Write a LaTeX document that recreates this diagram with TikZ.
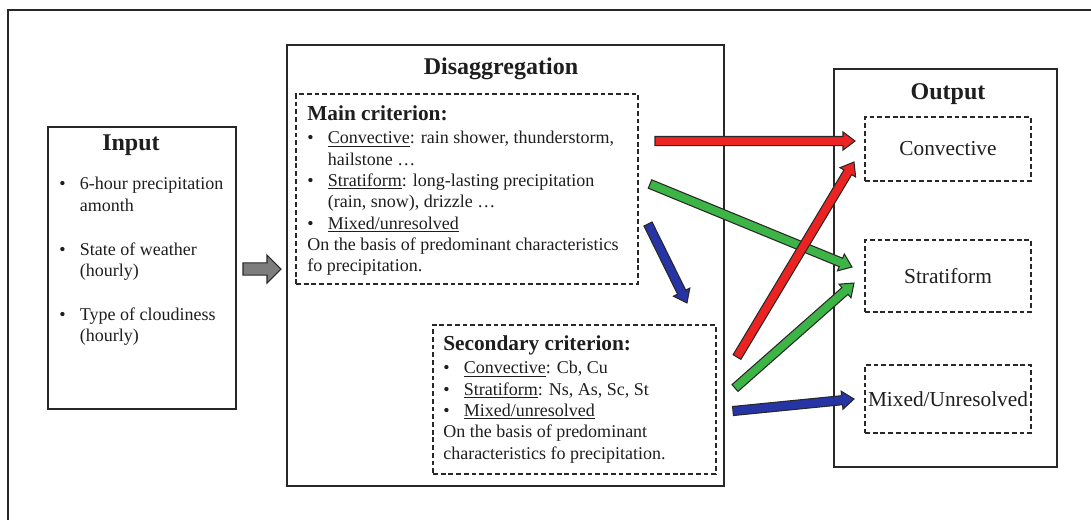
\documentclass[tikz,border=0pt]{standalone}
\usepackage{fontspec}
\setmainfont{Liberation Serif}
\usepackage{tikz}
\usetikzlibrary{calc}

\newdimen\pxu \pxu=0.75pt
\definecolor{ink}{RGB}{30,30,30}
\definecolor{edge}{RGB}{40,40,40}
\definecolor{arrred}{RGB}{235,35,35}
\definecolor{arrgreen}{RGB}{60,180,70}
\definecolor{arrblue}{RGB}{38,52,165}
\definecolor{arrgray}{RGB}{125,125,125}

% sizes of the block arrows
\newcommand\shafthw{3.4pt}
\newcommand\headhw{6.8pt}
\newcommand\headlen{9pt}
\newcommand\fatarrow[3]{%
  \draw[fat, fill=#1] let \p1=($(#3)-(#2)$), \n1={atan2(\y1,\x1)}, \n2={veclen(\x1,\y1)} in
    [shift={(#2)}, rotate=\n1]
    (0pt,-\shafthw) -- ({\n2-\headlen},-\shafthw) -- ({\n2-\headlen},-\headhw)
    -- (\n2,0pt) -- ({\n2-\headlen},\headhw) -- ({\n2-\headlen},\shafthw)
    -- (0pt,\shafthw) -- cycle;}
\newcommand\itm{\makebox[15.5pt][l]{\textbullet}}
\newcommand\ind{\hspace*{15.5pt}}

\begin{document}
\begin{tikzpicture}[x=0.75pt, y=-0.75pt,
    box/.style={draw=edge, line width=1.1pt},
    dbox/.style={draw=edge, line width=1pt, dash pattern=on 3.6pt off 2.2pt},
    fat/.style={draw=edge, line width=0.8pt, line join=miter},
    ttl/.style={font=\bfseries\fontsize{18}{20}\selectfont, inner sep=0pt, anchor=base, text=ink},
    sub/.style={font=\bfseries\fontsize{16}{18}\selectfont, inner sep=0pt, anchor=base west, text=ink},
    body/.style={font=\fontsize{13.5}{16}\selectfont, align=left, inner sep=0pt, anchor=north west, text=ink},
    outtxt/.style={font=\fontsize{16}{18}\selectfont, text=ink}
  ]
    \useasboundingbox (0,0) rectangle (1091,519);

    % Outer frame (runs off the right and bottom edge)
    \draw[edge, line width=1pt] (1100,10) -- (8,10) -- (8,530);

    % Input
    \node[box, minimum width=188\pxu, minimum height=282\pxu] (input) at (142,268) {};
    \node[ttl] (inputT) at (131,150) {Input};
    \node[body] (inputL) at (59,177) {\itm 6-hour precipitation\\ \ind amonth\\[17pt]
      \itm State of weather\\ \ind (hourly)\\[17pt]
      \itm Type of cloudiness\\ \ind (hourly)};

    % Disaggregation
    \node[box, minimum width=437\pxu, minimum height=441\pxu] (disagg) at (505.5,265.5) {};
    \node[ttl] (disaggT) at (501,74) {Disaggregation};

    % Main criterion
    \node[dbox, minimum width=342\pxu, minimum height=190\pxu] (mainbox) at (467,189) {};
    \node[sub] (mainT) at (307,120) {Main criterion:};
    \node[body] (mainL) at (307,131) {\itm \underline{Convective}: rain shower, thunderstorm,\\
      \ind hailstone …\\
      \itm \underline{Stratiform}: long-lasting precipitation\\
      \ind (rain, snow), drizzle …\\
      \itm \underline{Mixed/unresolved}\\
      On the basis of predominant characteristics\\
      fo precipitation.};

    % Secondary criterion
    \node[dbox, minimum width=283\pxu, minimum height=149\pxu] (secbox) at (574.5,399.5) {};
    \node[sub] (secT) at (443,350) {Secondary criterion:};
    \node[body] (secL) at (443,361) {\itm \underline{Convective}: Cb, Cu\\
      \itm \underline{Stratiform}: Ns, As, Sc, St\\
      \itm \underline{Mixed/unresolved}\\
      On the basis of predominant\\
      characteristics fo precipitation.};

    % Output
    \node[box, minimum width=223\pxu, minimum height=398\pxu] (output) at (945.5,268) {};
    \node[ttl] (outputT) at (948,99) {Output};
    \node[dbox, outtxt, minimum width=166\pxu, minimum height=64\pxu] (outconv) at (948,149) {Convective};
    \node[dbox, outtxt, minimum width=166\pxu, minimum height=72\pxu] (outstrat) at (948,276) {Stratiform};
    \node[dbox, outtxt, minimum width=166\pxu, minimum height=68\pxu, inner sep=1pt] (outmixed) at (948,399) {Mixed/Unresolved};

    % Arrow ends
    \coordinate (g0) at (243,269);  \coordinate (g1) at (281,269);
    \coordinate (r1a) at (655,141); \coordinate (r1b) at (855,141);
    \coordinate (g1a) at (650,184); \coordinate (g1b) at (852,267);
    \coordinate (b1a) at (648,224); \coordinate (b1b) at (687,303);
    \coordinate (r2a) at (737,357); \coordinate (r2b) at (854,162);
    \coordinate (g2a) at (735,388); \coordinate (g2b) at (854,283);
    \coordinate (b2a) at (733,411); \coordinate (b2b) at (854,399);

    % Input -> Disaggregation
    \begin{scope}
      \renewcommand\shafthw{4.6pt}\renewcommand\headhw{10.5pt}\renewcommand\headlen{10.5pt}
      \fatarrow{arrgray}{g0}{g1}
    \end{scope}

    % Criteria -> Output
    \fatarrow{arrred}{r1a}{r1b}
    \fatarrow{arrgreen}{g1a}{g1b}
    \fatarrow{arrblue}{b1a}{b1b}
    \fatarrow{arrred}{r2a}{r2b}
    \fatarrow{arrgreen}{g2a}{g2b}
    \fatarrow{arrblue}{b2a}{b2b}

  \end{tikzpicture}
\end{document}
